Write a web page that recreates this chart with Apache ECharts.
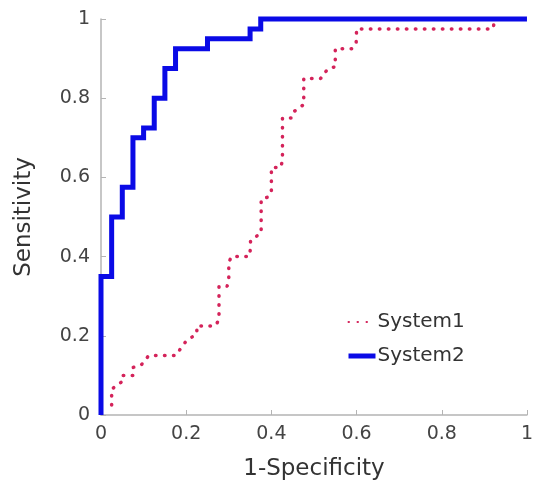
<!DOCTYPE html>
<html>
<head>
<meta charset="utf-8">
<script src="https://cdn.jsdelivr.net/npm/echarts@6/dist/echarts.min.js"></script>
<style>
  html, body { margin: 0; padding: 0; background: #fff; }
  #chart { width: 536px; height: 486px; }
</style>
</head>
<body>
<div id="chart"></div>
<script>
// ROC 曲线数据 (1-Specificity, Sensitivity)
var sys1X = [0.025, 0.025, 0.05, 0.05, 0.075, 0.075, 0.095, 0.112, 0.175, 0.2, 0.225, 0.225, 0.268, 0.277, 0.277, 0.296, 0.3, 0.3, 0.306, 0.348, 0.351, 0.351, 0.376, 0.376, 0.391, 0.4, 0.4, 0.422, 0.426, 0.426, 0.448, 0.454, 0.476, 0.476, 0.516, 0.523, 0.535, 0.55, 0.55, 0.589, 0.599, 0.6, 0.92, 0.925, 1]
var sys1Y = [0.025, 0.065, 0.085, 0.1, 0.1, 0.12, 0.127, 0.15, 0.15, 0.187, 0.205, 0.225, 0.225, 0.24, 0.325, 0.325, 0.34, 0.385, 0.4, 0.4, 0.42, 0.44, 0.46, 0.545, 0.55, 0.563, 0.625, 0.625, 0.643, 0.75, 0.75, 0.767, 0.784, 0.85, 0.85, 0.862, 0.876, 0.879, 0.925, 0.925, 0.937, 0.975, 0.975, 1, 1]

var sys2X = [0, 0, 0.025, 0.025, 0.05, 0.05, 0.075, 0.075, 0.1, 0.1, 0.125, 0.125, 0.15, 0.15, 0.175, 0.175, 0.25, 0.25, 0.35, 0.35, 0.375, 0.375, 1]
var sys2Y = [0, 0.35, 0.35, 0.5, 0.5, 0.575, 0.575, 0.7, 0.7, 0.725, 0.725, 0.8, 0.8, 0.875, 0.875, 0.925, 0.925, 0.95, 0.95, 0.975, 0.975, 1, 1]

var tickStep = 0.2

function pairs(xs, ys) {
	var out = []
	for (var i = 0; i < xs.length; i++) {
		out.push([xs[i], ys[i]])
	}
	return out
}

var font = "'DejaVu Sans', Verdana, sans-serif"

var axisCommon = {
	type: 'value',
	min: 0,
	max: 1,
	interval: tickStep,
	nameLocation: 'middle',
	nameTextStyle: { fontFamily: font, fontSize: 23, color: '#333' },
	axisLine: { show: true, lineStyle: { color: '#b4b4b4', width: 1.5 } },
	axisTick: { show: true, inside: true, length: 5, lineStyle: { color: '#b4b4b4', width: 1 } },
	axisLabel: { fontFamily: font, fontSize: 19, color: '#444' },
	splitLine: { show: false }
}

var chart = echarts.init(document.getElementById('chart'))

var option = {
	animation: false,
	backgroundColor: '#fff',
	grid: { left: 101, right: 3, top: 19, bottom: 68, containLabel: false },
	legend: {
		orient: 'vertical',
		left: 346,
		top: 312,
		itemWidth: 27,
		itemHeight: 18,
		itemGap: 14,
		padding: 0,
		// 图例只画线，不画圆点
		itemStyle: { opacity: 0 },
		textStyle: { fontFamily: font, fontSize: 20, color: '#333', padding: [0, 0, 0, -3] },
		data: [
			{ name: 'System1' },
			{ name: 'System2', lineStyle: { width: 5 } }
		]
	},
	xAxis: Object.assign({}, axisCommon, {
		name: '1-Specificity',
		nameGap: 43,
		axisLabel: Object.assign({}, axisCommon.axisLabel, { margin: 10 })
	}),
	yAxis: Object.assign({}, axisCommon, {
		name: 'Sensitivity',
		nameGap: 65,
		axisLabel: Object.assign({}, axisCommon.axisLabel, { margin: 11 })
	}),
	series: [
		{
			name: 'System1',
			type: 'line',
			symbol: 'none',
			clip: false,
			data: pairs(sys1X, sys1Y),
			itemStyle: { color: '#d4235a' },
			lineStyle: { color: '#d4235a', width: 3.5, type: [0.5, 8.5], cap: 'round' }
		},
		{
			name: 'System2',
			type: 'line',
			symbol: 'none',
			clip: false,
			data: pairs(sys2X, sys2Y),
			itemStyle: { color: '#0a0ae6' },
			lineStyle: { color: '#0a0ae6', width: 5, join: 'miter' }
		}
	]
}

chart.setOption(option)
</script>
</body>
</html>
